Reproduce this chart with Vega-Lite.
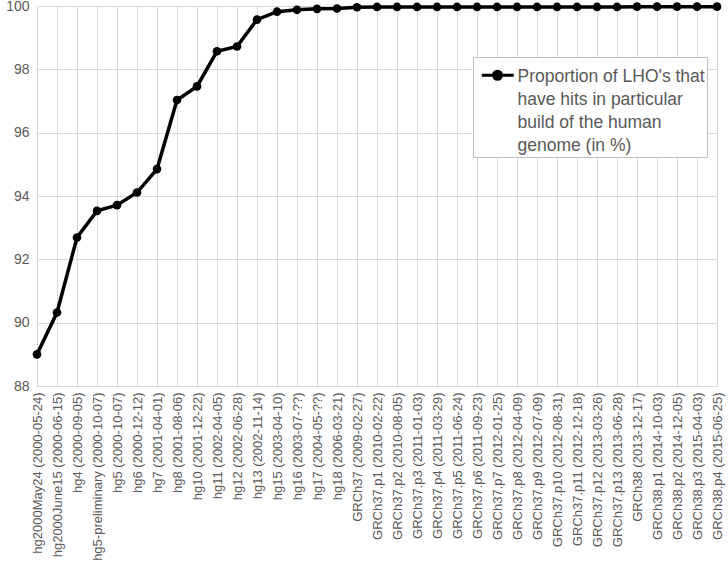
{
  "$schema": "https://vega.github.io/schema/vega-lite/v6.json",
  "width": 680,
  "height": 380,
  "autosize": {"type": "none"},
  "padding": {"left": 37, "top": 6, "right": 11, "bottom": 197},
  "background": "white",
  "config": {
    "view": {"stroke": null},
    "font": "Liberation Sans",
    "axis": {"labelColor": "#595959", "gridColor": "#d9d9d9", "gridWidth": 1, "ticks": false, "title": null, "domain": false},
    "style": {"guide-label": {"lineHeight": 23}}
  },
  "data": {
    "values": [
      {"build": "hg2000May24 (2000-05-24)", "pct": 89.0, "series": "s"},
      {"build": "hg2000June15 (2000-06-15)", "pct": 90.32, "series": "s"},
      {"build": "hg4 (2000-09-05)", "pct": 92.69, "series": "s"},
      {"build": "hg5-preliminary (2000-10-07)", "pct": 93.53, "series": "s"},
      {"build": "hg5 (2000-10-07)", "pct": 93.71, "series": "s"},
      {"build": "hg6 (2000-12-12)", "pct": 94.11, "series": "s"},
      {"build": "hg7 (2001-04-01)", "pct": 94.85, "series": "s"},
      {"build": "hg8 (2001-08-06)", "pct": 97.03, "series": "s"},
      {"build": "hg10 (2001-12-22)", "pct": 97.46, "series": "s"},
      {"build": "hg11 (2002-04-05)", "pct": 98.57, "series": "s"},
      {"build": "hg12 (2002-06-28)", "pct": 98.72, "series": "s"},
      {"build": "hg13 (2002-11-14)", "pct": 99.57, "series": "s"},
      {"build": "hg15 (2003-04-10)", "pct": 99.82, "series": "s"},
      {"build": "hg16 (2003-07-??)", "pct": 99.88, "series": "s"},
      {"build": "hg17 (2004-05-??)", "pct": 99.91, "series": "s"},
      {"build": "hg18 (2006-03-21)", "pct": 99.92, "series": "s"},
      {"build": "GRCh37 (2009-02-27)", "pct": 99.96, "series": "s"},
      {"build": "GRCh37.p1 (2010-02-22)", "pct": 99.97, "series": "s"},
      {"build": "GRCh37.p2 (2010-08-05)", "pct": 99.97, "series": "s"},
      {"build": "GRCh37.p3 (2011-01-03)", "pct": 99.97, "series": "s"},
      {"build": "GRCh37.p4 (2011-03-29)", "pct": 99.97, "series": "s"},
      {"build": "GRCh37.p5 (2011-06-24)", "pct": 99.97, "series": "s"},
      {"build": "GRCh37.p6 (2011-09-23)", "pct": 99.97, "series": "s"},
      {"build": "GRCh37.p7 (2012-01-25)", "pct": 99.97, "series": "s"},
      {"build": "GRCh37.p8 (2012-04-09)", "pct": 99.97, "series": "s"},
      {"build": "GRCh37.p9 (2012-07-09)", "pct": 99.97, "series": "s"},
      {"build": "GRCh37.p10 (2012-08-31)", "pct": 99.97, "series": "s"},
      {"build": "GRCh37.p11 (2012-12-18)", "pct": 99.97, "series": "s"},
      {"build": "GRCh37.p12 (2013-03-26)", "pct": 99.97, "series": "s"},
      {"build": "GRCh37.p13 (2013-06-28)", "pct": 99.97, "series": "s"},
      {"build": "GRCh38 (2013-12-17)", "pct": 99.98, "series": "s"},
      {"build": "GRCh38.p1 (2014-10-03)", "pct": 99.98, "series": "s"},
      {"build": "GRCh38.p2 (2014-12-05)", "pct": 99.98, "series": "s"},
      {"build": "GRCh38.p3 (2015-04-03)", "pct": 99.98, "series": "s"},
      {"build": "GRCh38.p4 (2015-06-25)", "pct": 99.98, "series": "s"}
    ]
  },
  "mark": {
    "type": "line",
    "strokeWidth": 3.5,
    "point": {"filled": true, "size": 75, "color": "black"}
  },
  "encoding": {
    "x": {
      "field": "build",
      "type": "nominal",
      "sort": null,
      "scale": {"type": "point", "padding": 0},
      "axis": {"labelAngle": -90, "labelFontSize": 13, "labelPadding": 6, "domain": true, "domainColor": "#d9d9d9", "grid": true}
    },
    "y": {
      "field": "pct",
      "type": "quantitative",
      "scale": {"domain": [88, 100], "nice": false, "zero": false},
      "axis": {"values": [88, 90, 92, 94, 96, 98, 100], "labelFontSize": 14, "labelPadding": 8, "grid": true}
    },
    "color": {
      "field": "series",
      "type": "nominal",
      "scale": {"range": ["black"]},
      "legend": {
        "orient": "none",
        "legendX": 436,
        "legendY": 51,
        "title": null,
        "strokeColor": "#bfbfbf",
        "fillColor": "white",
        "padding": 2,
        "labelFontSize": 17.5,
        "labelColor": "#595959",
        "labelLimit": 300,
        "labelOffset": 25,
        "labelBaseline": "top",
        "symbolType": "M-0.4,1.5L6.0,1.5M1.95,1.5A0.8,0.8 0 1,1 3.55,1.5A0.8,0.8 0 1,1 1.95,1.5",
        "symbolSize": 100,
        "symbolStrokeWidth": 3,
        "symbolFillColor": "black",
        "symbolStrokeColor": "black",
        "labelExpr": "[\"Proportion of LHO's that\", \"have hits in particular\", \"build of the human\", \"genome (in %)\"]"
      }
    }
  }
}
